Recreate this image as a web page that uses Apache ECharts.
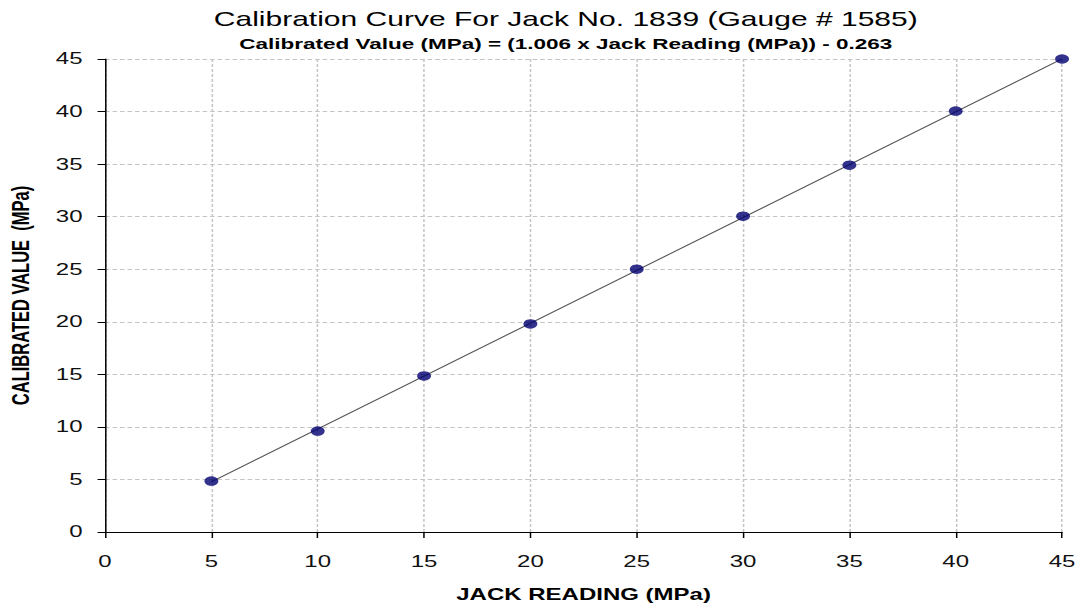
<!DOCTYPE html>
<html>
<head>
<meta charset="utf-8">
<script src="https://cdn.jsdelivr.net/npm/echarts@6/dist/echarts.min.js"></script>
<style>
html,body{margin:0;padding:0;background:#fff;overflow:hidden}
#wrap{width:1076px;height:603px;overflow:hidden}
#c{width:717px;height:603px;transform:scaleX(1.50070);transform-origin:0 0}
</style>
</head>
<body>
<div id="wrap"><div id="c"></div></div>
<script>
const jackReading = [5, 10, 15, 20, 25, 30, 35, 40, 45];
const calibratedValue = [4.85, 9.6, 14.85, 19.8, 25.0, 30.05, 34.9, 40.05, 45.0];
const trendX = [5, 45];
const trendY = [4.77, 45.01];
const titleText = 'Calibration Curve For Jack No. 1839 (Gauge # 1585)';
const subtitleText = 'Calibrated Value (MPa) = (1.006 x Jack Reading (MPa)) - 0.263';
const xName = 'JACK READING (MPa)';
const yName = 'CALIBRATED VALUE  (MPa)';

const chart = echarts.init(document.getElementById('c'), null, {renderer: 'svg'});
chart.setOption({
  animation: false,
  graphic: [
    {type: 'text', x: 377, y: 9, style: {text: titleText, textAlign: 'center', fill: '#000',
      font: 'normal 20px "Liberation Sans", Arial, sans-serif'}},
    {type: 'text', x: 377, y: 36, style: {text: subtitleText, textAlign: 'center', fill: '#000',
      font: 'bold 15px "Liberation Sans", Arial, sans-serif'}}
  ],
  grid: {left: 70, right: 9.3, top: 59, bottom: 71, outerBoundsMode: 'none', containLabel: false},
  xAxis: {
    type: 'value', min: 0, max: 45, interval: 5,
    name: xName, nameLocation: 'middle', nameGap: 55,
    nameTextStyle: {fontFamily: 'Liberation Sans, Arial', fontSize: 16, fontWeight: 'bold', color: '#000'},
    axisLine: {lineStyle: {color: '#000', width: 1}},
    axisTick: {show: true, length: 6, lineStyle: {color: '#000'}},
    axisLabel: {fontFamily: 'Liberation Sans, Arial', fontSize: 16, color: '#111', margin: 22},
    splitLine: {show: true, lineStyle: {color: '#c4c4c4', type: [3, 2], width: 1}}
  },
  yAxis: {
    type: 'value', min: 0, max: 45, interval: 5,
    name: yName, nameLocation: 'middle', nameGap: 48,
    nameTextStyle: {fontFamily: 'Liberation Sans Narrow, Liberation Sans, Arial', fontSize: 16.5, fontWeight: 'bold', color: '#000'},
    axisLine: {show: true, lineStyle: {color: '#000', width: 1}},
    axisTick: {show: true, length: 5, lineStyle: {color: '#000'}},
    axisLabel: {fontFamily: 'Liberation Sans, Arial', fontSize: 16, color: '#111', margin: 15},
    splitLine: {show: true, lineStyle: {color: '#c4c4c4', type: [3, 2], width: 1}}
  },
  series: [
    {
      type: 'line', data: trendX.map((x, i) => [x, trendY[i]]),
      showSymbol: false, symbol: 'none',
      lineStyle: {color: '#555', width: 1}, z: 2
    },
    {
      type: 'scatter', data: jackReading.map((x, i) => [x, calibratedValue[i]]),
      symbol: 'circle', symbolSize: [9.3, 9.5],
      itemStyle: {color: '#000070'}, z: 3
    }
  ]
});
</script>
</body>
</html>
